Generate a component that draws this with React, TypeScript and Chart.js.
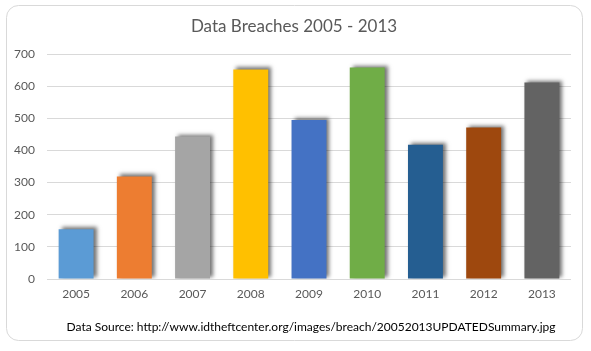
import React, { useEffect, useRef } from "react";
import { Chart, registerables } from "chart.js";

Chart.register(...registerables);

const years = ["2005", "2006", "2007", "2008", "2009", "2010", "2011", "2012", "2013"];
const breaches = [155, 319, 443, 652, 495, 658, 418, 471, 611];
const barColors = ["#5B9BD5", "#ED7D31", "#A5A5A5", "#FFC000", "#4472C4", "#70AD47", "#255E91", "#9E480E", "#636363"];
const yTicks = [0, 100, 200, 300, 400, 500, 600, 700];
const titleText = "Data Breaches 2005 - 2013";
const footerText = "Data Source: http://www.idtheftcenter.org/images/breach/20052013UPDATEDSummary.jpg";

const FONT = "Lato, 'Open Sans', sans-serif";

const framePlugin = {
  id: "frame",
  beforeDraw(chart: any) {
    const ctx = chart.ctx;
    ctx.save();
    ctx.fillStyle = "#ffffff";
    ctx.fillRect(0, 0, chart.width, chart.height);
    const x = 6.5, y = 5.5, w = 576, h = 335, r = 12;
    ctx.beginPath();
    ctx.moveTo(x + r, y);
    ctx.lineTo(x + w - r, y);
    ctx.arcTo(x + w, y, x + w, y + r, r);
    ctx.lineTo(x + w, y + h - r);
    ctx.arcTo(x + w, y + h, x + w - r, y + h, r);
    ctx.lineTo(x + r, y + h);
    ctx.arcTo(x, y + h, x, y + h - r, r);
    ctx.lineTo(x, y + r);
    ctx.arcTo(x, y, x + r, y, r);
    ctx.closePath();
    ctx.strokeStyle = "#d9d9d9";
    ctx.lineWidth = 1;
    ctx.stroke();
    ctx.restore();
  },
  afterDraw(chart: any) {
    const ctx = chart.ctx;
    ctx.save();
    ctx.textAlign = "center";
    ctx.textBaseline = "middle";
    ctx.fillStyle = "#595959";
    ctx.font = `17px ${FONT}`;
    ctx.fillText(titleText, 294, 27);
    ctx.fillStyle = "#000000";
    ctx.font = `12px ${FONT}`;
    ctx.fillText(footerText, 311, 327);
    ctx.restore();
  },
};

const shadowPlugin = {
  id: "barShadow",
  beforeDatasetsDraw(chart: any) {
    const ctx = chart.ctx;
    ctx.save();
    ctx.shadowColor = "rgba(0,0,0,0.55)";
    ctx.shadowBlur = 4;
    ctx.shadowOffsetX = 3;
    ctx.shadowOffsetY = -2;
  },
  afterDatasetsDraw(chart: any) {
    chart.ctx.restore();
  },
};

export default function App() {
  const ref = useRef<HTMLCanvasElement | null>(null);
  useEffect(() => {
    document.body.style.margin = "0";
    const canvas = ref.current;
    if (!canvas) return;
    const chart = new Chart(canvas, {
      type: "bar",
      data: {
        labels: years,
        datasets: [
          {
            data: breaches,
            backgroundColor: barColors,
            barPercentage: 0.6,
            categoryPercentage: 1,
          },
        ],
      },
      options: {
        animation: false,
        responsive: false,
        maintainAspectRatio: false,
        layout: { padding: { left: 0, right: 20, top: 54, bottom: 42 } },
        plugins: {
          legend: { display: false },
          tooltip: { enabled: false },
          title: { display: false },
        },
        scales: {
          x: {
            grid: { display: false, drawTicks: false },
            border: { display: false },
            ticks: { color: "#595959", font: { family: FONT, size: 12 }, padding: 8 },
            afterFit: (scale: any) => {
              scale.height = 30;
            },
          },
          y: {
            min: 0,
            max: 700,
            afterBuildTicks: (scale: any) => {
              scale.ticks = yTicks.map((v) => ({ value: v }));
            },
            afterFit: (scale: any) => {
              scale.width = 47;
            },
            grid: { color: "#d9d9d9", drawTicks: false },
            border: { display: false },
            ticks: { color: "#595959", font: { family: FONT, size: 12 }, padding: 12 },
          },
        },
      },
      plugins: [framePlugin, shadowPlugin],
    });
    return () => chart.destroy();
  }, []);
  return (
    <div style={{ width: 591, height: 351 }}>
      <canvas ref={ref} width={591} height={351} style={{ display: "block" }} />
    </div>
  );
}
